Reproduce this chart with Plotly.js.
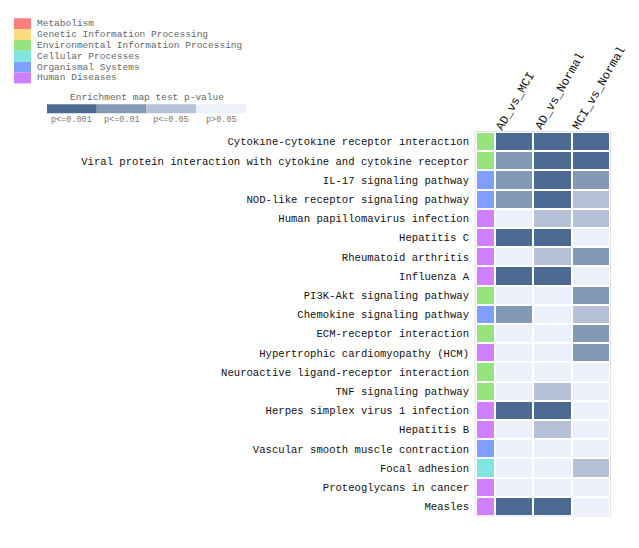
<!DOCTYPE html>
<html>
<head>
<meta charset="utf-8">
<script src="https://cdn.plot.ly/plotly-3.0.1.min.js"></script>
<style>html,body{margin:0;padding:0;background:#fff;}#chart{width:639px;height:548px;}</style>
</head>
<body>
<div id="chart"></div>
<script>
// ---- data ----
const pathways = [
  "Cytokine-cytokine receptor interaction",
  "Viral protein interaction with cytokine and cytokine receptor",
  "IL-17 signaling pathway",
  "NOD-like receptor signaling pathway",
  "Human papillomavirus infection",
  "Hepatitis C",
  "Rheumatoid arthritis",
  "Influenza A",
  "PI3K-Akt signaling pathway",
  "Chemokine signaling pathway",
  "ECM-receptor interaction",
  "Hypertrophic cardiomyopathy (HCM)",
  "Neuroactive ligand-receptor interaction",
  "TNF signaling pathway",
  "Herpes simplex virus 1 infection",
  "Hepatitis B",
  "Vascular smooth muscle contraction",
  "Focal adhesion",
  "Proteoglycans in cancer",
  "Measles"
];
const categoryNames = ["Metabolism","Genetic Information Processing","Environmental Information Processing","Cellular Processes","Organismal Systems","Human Diseases"];
const categoryColors = ["#ff7f7f","#ffdb7f","#95e57f","#7fe5df","#7f9fff","#cf7fff"];
// category index for each pathway
const pathwayCategory = [2,2,4,4,5,5,5,5,2,4,2,5,2,2,5,5,4,3,5,5];
const comparisons = ["AD_vs_MCI","AD_vs_Normal","MCI_vs_Normal"];
// significance level: 3 = p<=0.001, 2 = p<=0.01, 1 = p<=0.05, 0 = p>0.05
const AD_vs_MCI     = [3,2,2,2,0,3,0,3,0,2,0,0,0,0,3,0,0,0,0,3];
const AD_vs_Normal  = [3,3,3,3,1,3,1,3,0,0,0,0,0,1,3,1,0,0,0,3];
const MCI_vs_Normal = [3,3,2,1,1,0,2,0,2,1,2,2,0,0,0,0,0,1,0,0];
const levelLabels = ["p<=0.001","p<=0.01","p<=0.05","p>0.05"];
const levelColors = ["#4d6a92","#8399b6","#b5c1d6","#ecf0fa"]; // dark -> light

// ---- build ----
const W = 639, H = 548;
const px = x => x / W, py = y => 1 - y / H;
const mono = "Liberation Mono, DejaVu Sans Mono, monospace";

const zCat = pathways.map((p, i) => [pathwayCategory[i]]);
const zP = pathways.map((p, i) => [AD_vs_MCI[i], AD_vs_Normal[i], MCI_vs_Normal[i]]);

const catScale = categoryColors.map((c, i) => [i / (categoryColors.length - 1), c]);
const pScale = [[0, levelColors[3]], [1/3, levelColors[2]], [2/3, levelColors[1]], [1, levelColors[0]]];

const traces = [
  {
    type: "heatmap", x: ["category"], y: pathways, z: zCat,
    xaxis: "x", yaxis: "y", zmin: 0, zmax: 5, colorscale: catScale,
    showscale: false, xgap: 2, ygap: 2, hoverinfo: "skip"
  },
  {
    type: "heatmap", x: comparisons, y: pathways, z: zP,
    xaxis: "x2", yaxis: "y", zmin: 0, zmax: 3, colorscale: pScale,
    showscale: false, xgap: 2, ygap: 2
  }
];

const shapes = [];
const annotations = [];
// category legend
const boxTop = 18.3, boxH = 10.85;
categoryNames.forEach((name, i) => {
  shapes.push({type: "rect", xref: "paper", yref: "paper",
    x0: px(14), x1: px(31), y0: py(boxTop + i * boxH), y1: py(boxTop + (i + 1) * boxH),
    fillcolor: categoryColors[i], line: {width: 0}});
  annotations.push({xref: "paper", yref: "paper", x: px(35), y: py(boxTop + (i + 0.5) * boxH),
    xanchor: "left", yanchor: "middle", showarrow: false, text: name,
    font: {family: mono, size: 9.5, color: "#666"}});
});
// p-value legend
const segL = 47, segW = 49.75;
annotations.push({xref: "paper", yref: "paper", x: px(segL + 2 * segW), y: py(97.5),
  xanchor: "center", yanchor: "middle", showarrow: false, text: "Enrichment map test p-value",
  font: {family: mono, size: 9.5, color: "#666"}});
levelLabels.forEach((lab, i) => {
  shapes.push({type: "rect", xref: "paper", yref: "paper",
    x0: px(segL + i * segW), x1: px(segL + (i + 1) * segW), y0: py(104.3), y1: py(113.3),
    fillcolor: levelColors[i], line: {width: 0}});
  annotations.push({xref: "paper", yref: "paper", x: px(segL + (i + 0.5) * segW), y: py(119.5),
    xanchor: "center", yanchor: "middle", showarrow: false, text: lab,
    font: {family: mono, size: 8.5, color: "#777"}});
});
// rotated column labels (start near left edge of each column)
const colFont = 12, charW = colFont * 0.6, ang = 60 * Math.PI / 180;
comparisons.forEach((c) => {
  const L = c.length * charW;
  const dx = -11 + (L / 2) * Math.cos(ang) - 3.5;
  const dy = -(L / 2) * Math.sin(ang) + 1;     // pixels, downward positive
  annotations.push({xref: "x2", yref: "paper", x: c, y: py(128),
    xshift: dx, yshift: -dy, xanchor: "center", yanchor: "middle",
    showarrow: false, textangle: -60, text: c,
    font: {family: mono, size: colFont, color: "#111"}});
});
// outer frame of heatmap
shapes.push({type: "rect", xref: "paper", yref: "paper", x0: px(475), x1: px(610.5), y0: py(131.5), y1: py(516),
  line: {color: "#e2e2e2", width: 1}, fillcolor: "rgba(0,0,0,0)", layer: "below"});
// white mask clipping top of first row label (as in reference)
shapes.push({type: "rect", xref: "paper", yref: "paper", x0: px(60), x1: px(472), y0: py(127), y1: py(138.3),
  fillcolor: "#fff", line: {width: 0}, layer: "above"});

const layout = {
  width: W, height: H,
  margin: {l: 0, r: 0, t: 0, b: 0},
  paper_bgcolor: "#fff", plot_bgcolor: "#fff",
  showlegend: false,
  xaxis: {domain: [px(476), px(495)], showticklabels: false, showgrid: false, zeroline: false,
    ticks: "", anchor: "y", range: [-0.5, 0.5]},
  xaxis2: {domain: [px(495), px(610)], side: "top", showticklabels: false, showgrid: false, zeroline: false,
    ticks: "", anchor: "y", type: "category", categoryarray: comparisons,
    range: [-0.5, comparisons.length - 0.5], autorange: false},
  yaxis: {domain: [py(516), py(132)], type: "category", categoryarray: pathways,
    range: [pathways.length - 0.5, -0.5], autorange: false,
    showgrid: false, zeroline: false, ticks: "", anchor: "x",
    tickfont: {family: mono, size: 10.6, color: "#111"}, ticklabelstandoff: 6},
  shapes: shapes,
  annotations: annotations
};

Plotly.newPlot("chart", traces, layout, {displayModeBar: false, staticPlot: true});
</script>
</body>
</html>
